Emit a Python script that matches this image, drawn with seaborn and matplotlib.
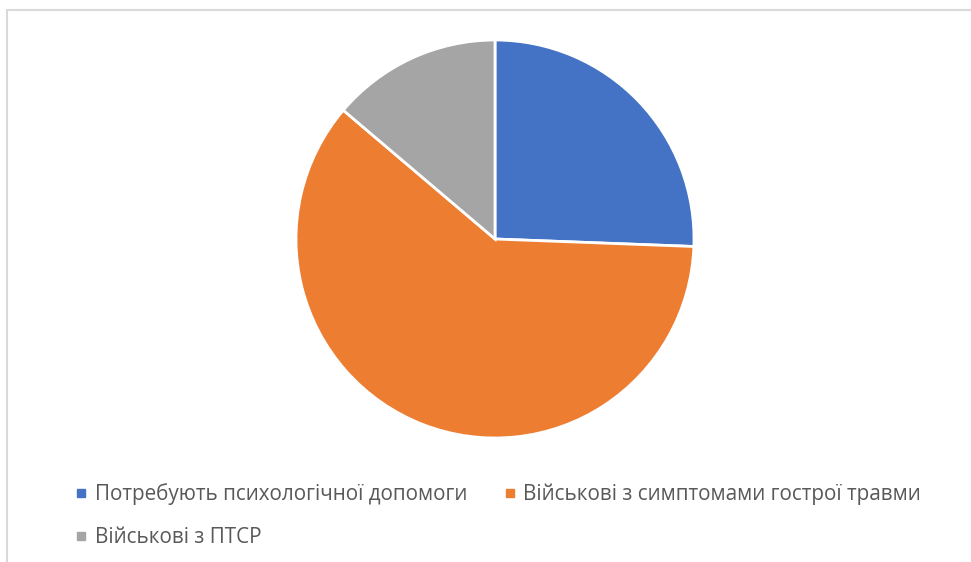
import matplotlib
matplotlib.use("Agg")
import matplotlib.pyplot as plt
import seaborn as sns
from matplotlib.lines import Line2D
from matplotlib.patches import Rectangle

# Data (shares of the whole)
labels = ["Потребують психологічної допомоги",
          "Військові з симптомами гострої травми",
          "Військові з ПТСР"]
values = [25.6, 60.6, 13.8]
colors = ["#4472C4", "#ED7D31", "#A5A5A5"]

sns.set_theme(style="white")
plt.rcParams['font.family'] = ['Open Sans', 'DejaVu Sans']

W, H = 971, 562
fig = plt.figure(figsize=(W / 100, H / 100), dpi=100)

# outer frame (chart area border, runs off the right/bottom edge)
fig.add_artist(Rectangle((7 / W, -0.1), 1.2, 1 - 10 / H + 0.1,
                         transform=fig.transFigure, fill=False,
                         edgecolor="#d9d9d9", linewidth=1.5))

cx, cy, r = 495, 239, 199
ax = fig.add_axes([(cx - r) / W, (H - cy - r) / H, 2 * r / W, 2 * r / H])
ax.pie(values, colors=colors, startangle=90, counterclock=False,
       radius=1, wedgeprops=dict(edgecolor="white", linewidth=2))
ax.set_xlim(-1, 1)
ax.set_ylim(-1, 1)
ax.set_aspect("equal")
ax.axis("off")

handles = [Line2D([], [], marker="s", linestyle="none", markersize=6,
                  markerfacecolor=c, markeredgecolor=c) for c in colors]
# reorder so the legend fills row by row like the original
order = [0, 2, 1]
leg = fig.legend([handles[i] for i in order], [labels[i] for i in order],
                 ncol=2, loc="upper left", bbox_to_anchor=(68 / W, 1 - 475 / H),
                 frameon=False, fontsize=14.9, handlelength=0.5, handletextpad=0.4,
                 columnspacing=1.8, labelspacing=1.05, borderaxespad=0)
for t in leg.get_texts():
    t.set_color("#595959")

fig.savefig("out.png", dpi=100)
